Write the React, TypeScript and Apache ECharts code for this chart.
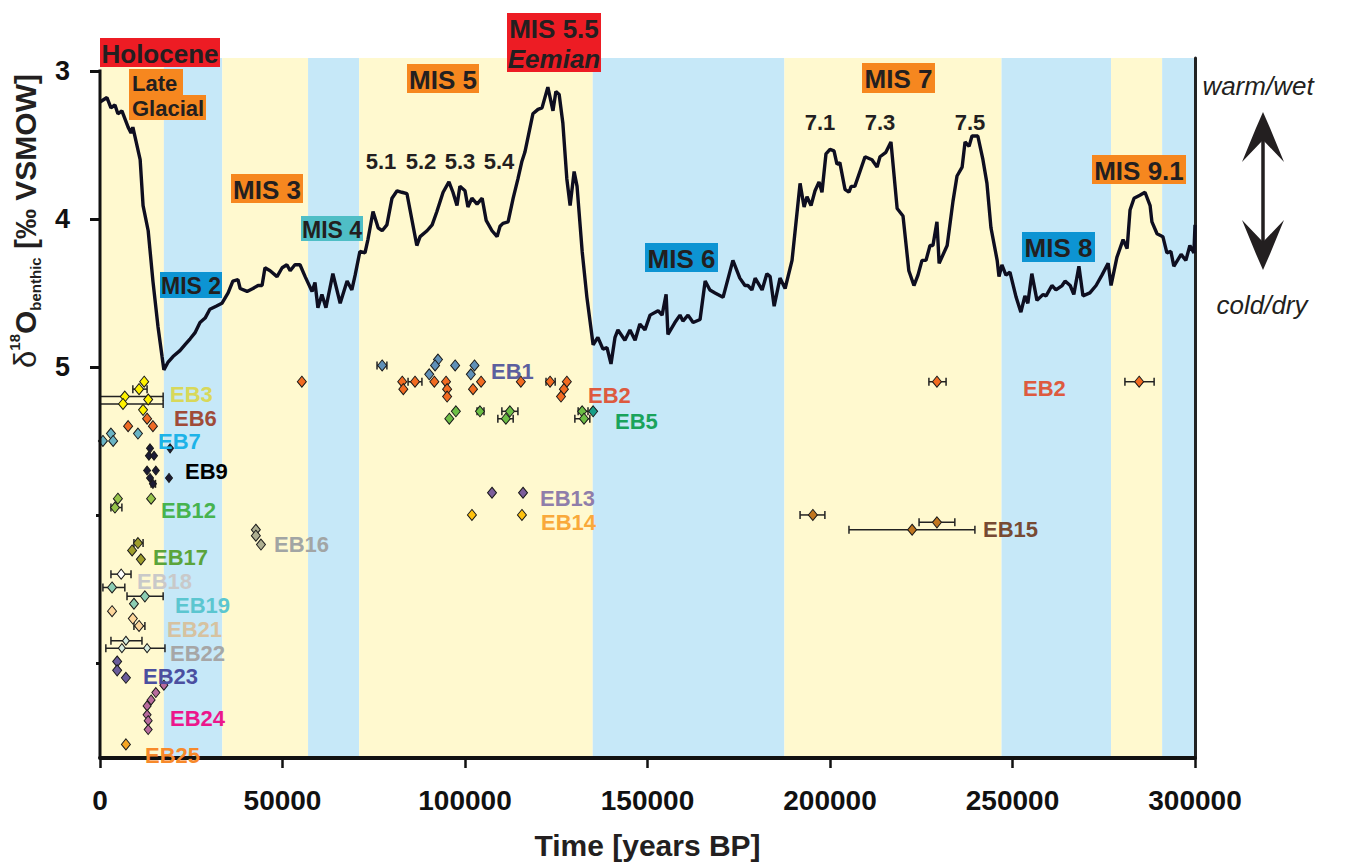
import React, { useEffect, useRef } from "react";
import * as echarts from "echarts";

const FONT = "'Liberation Sans', Arial, Helvetica, sans-serif";
const INK = "#231F20";

// ---------- axes ----------
const ageTicks = [0, 50000, 100000, 150000, 200000, 250000, 300000];
const labelledIsotopeTicks = [3, 4, 5];
const minorIsotopeTicks = [6, 7];
const AGE_MIN = 0;
const AGE_MAX = 300000;
const Y_MIN = 2.913;
const Y_MAX = 7.642;

// ---------- climate bands (years BP) ----------
const bandStart = [0, 17500, 33500, 57000, 71000, 135000, 187500, 247000, 277000, 291000];
const bandEnd = [17500, 33500, 57000, 71000, 135000, 187500, 247000, 277000, 291000, 300000];
const bandWarm = [1, 0, 1, 0, 1, 0, 1, 0, 1, 0];

// ---------- benthic d18O record [age, permil] ----------
const benthicRecord = [
  [0, 3.21], [1900, 3.18], [3000, 3.25], [4100, 3.23], [4900, 3.29], [6000, 3.27], [7700, 3.38], [8500, 3.42],
  [9000, 3.38], [11000, 3.6], [11800, 3.91], [13200, 4.08], [14500, 4.42], [15900, 4.73], [17000, 4.93], [17500, 5.02],
  [18600, 4.97], [20000, 4.93], [21900, 4.89], [23300, 4.85], [24700, 4.81], [26000, 4.77], [27400, 4.7], [28800, 4.67],
  [30100, 4.61], [31800, 4.59], [33400, 4.57], [35100, 4.5], [36400, 4.42], [37800, 4.41], [38400, 4.47], [40300, 4.49],
  [41900, 4.47], [43300, 4.45], [44400, 4.45], [45200, 4.33], [46600, 4.35], [48500, 4.39], [49900, 4.33], [51200, 4.31],
  [52100, 4.35], [53400, 4.31], [54800, 4.31], [56200, 4.39], [58100, 4.49], [58900, 4.43], [59700, 4.6], [60800, 4.51],
  [61900, 4.6], [63800, 4.37], [65800, 4.57], [67700, 4.42], [69000, 4.48], [69900, 4.38], [71200, 4.22], [72600, 4.23],
  [73400, 4.14], [74800, 3.95], [76200, 4.06], [77300, 4.08], [78600, 4.04], [80000, 3.86], [81400, 3.81], [82700, 3.82],
  [84100, 3.83], [86800, 4.18], [87700, 4.12], [89600, 4.08], [91000, 4.04], [92300, 3.95], [94000, 3.82], [95600, 3.75],
  [96700, 3.82], [97800, 3.91], [98600, 3.78], [100000, 3.81], [100800, 3.92], [101900, 3.86], [103300, 3.9], [104700, 3.86],
  [105800, 4.01], [107400, 4.08], [108800, 4.12], [109600, 4.05], [110400, 4.03], [111800, 4.02], [113200, 3.86], [114500, 3.73],
  [115600, 3.61], [116400, 3.55], [118600, 3.29], [120000, 3.26], [121100, 3.25], [122700, 3.11], [124100, 3.27], [124900, 3.14],
  [125800, 3.16], [126800, 3.35], [127900, 3.73], [128800, 3.91], [129900, 3.68], [130700, 3.78], [132100, 4.22], [133400, 4.53],
  [135100, 4.85], [136400, 4.8], [137800, 4.88], [138900, 4.87], [140000, 4.98], [141100, 4.8], [141900, 4.75], [143800, 4.82],
  [145200, 4.75], [146600, 4.82], [147900, 4.71], [149300, 4.75], [150700, 4.65], [152900, 4.62], [154000, 4.65], [155100, 4.51],
  [155600, 4.78], [157500, 4.7], [158900, 4.65], [159700, 4.69], [161100, 4.65], [162500, 4.7], [164400, 4.68], [165800, 4.42],
  [167100, 4.48], [168500, 4.5], [170700, 4.53], [173400, 4.28], [175300, 4.4], [176700, 4.45], [177500, 4.45], [178600, 4.48],
  [179500, 4.4], [181400, 4.48], [182700, 4.37], [183600, 4.39], [184700, 4.59], [186300, 4.4], [187700, 4.47], [189600, 4.28],
  [191000, 3.95], [191800, 3.76], [192900, 3.92], [193700, 3.85], [194800, 3.91], [195900, 3.81], [197000, 3.75], [197800, 3.82],
  [198900, 3.56], [200000, 3.53], [201100, 3.54], [201900, 3.63], [202700, 3.62], [204100, 3.8], [205200, 3.82], [205800, 3.78],
  [206800, 3.78], [209600, 3.58], [211500, 3.6], [212900, 3.65], [213700, 3.58], [215300, 3.55], [216700, 3.48], [218400, 3.93],
  [220000, 3.98], [221600, 4.35], [223000, 4.45], [224100, 4.38], [225200, 4.28], [226300, 4.28], [227400, 4.18], [228200, 4.18],
  [229300, 4.02], [229900, 4.3], [232100, 4.18], [233700, 3.88], [234800, 3.71], [236200, 3.65], [237000, 3.48], [238100, 3.51],
  [238900, 3.44], [240500, 3.44], [241900, 3.6], [243000, 3.76], [244100, 4.06], [245800, 4.28], [246300, 4.39], [247100, 4.31],
  [248200, 4.38], [249300, 4.36], [251000, 4.53], [252300, 4.63], [253400, 4.52], [254200, 4.57], [255300, 4.37], [256700, 4.55],
  [258400, 4.51], [259200, 4.52], [260800, 4.45], [261900, 4.48], [263600, 4.45], [264400, 4.42], [265800, 4.45], [266800, 4.51],
  [268200, 4.32], [269300, 4.52], [271200, 4.5], [272900, 4.45], [274500, 4.38], [276200, 4.3], [277000, 4.45], [278600, 4.26],
  [280300, 4.14], [281400, 4.2], [282200, 3.94], [283300, 3.86], [284900, 3.84], [286300, 3.82], [287700, 3.91], [288200, 4.02],
  [289600, 4.1], [291200, 4.12], [292300, 4.23], [293400, 4.22], [294200, 4.32], [296200, 4.24], [297500, 4.28], [298600, 4.18],
  [299700, 4.23], [300000, 4.04],
];

// ---------- dated sites: [age, row, ageMin, ageMax] ----------
const EB1 = [[77300, 4.99, 75900, 78600], [92600, 4.95], [91800, 4.99], [90200, 5.05], [97300, 4.99], [102600, 4.99], [101600, 5.05]];
const EB2 = [[55300, 5.1], [82800, 5.1], [83100, 5.15], [86300, 5.1, 84400, 88200], [91600, 5.1], [94800, 5.1], [95100, 5.15],
  [95100, 5.2], [104400, 5.1], [102200, 5.15], [115300, 5.1], [123300, 5.1, 122200, 124700], [127900, 5.1], [127100, 5.15],
  [126300, 5.2], [229300, 5.1, 227100, 231800], [284700, 5.1, 280800, 288800]];
const EB5 = [[97500, 5.3], [95700, 5.35], [104100, 5.3, 103300, 105200], [112300, 5.3, 110100, 114500], [111200, 5.35, 109000, 113200],
  [132100, 5.3, 131000, 133700], [132600, 5.35, 130100, 134200]];
const EB5b = [[135100, 5.3]];
const EB3 = [[12100, 5.1], [10700, 5.15, 9000, 12900], [6800, 5.2, 0, 17300], [6300, 5.25, 0, 17300], [13200, 5.22], [11800, 5.29]];
const EB6 = [[12900, 5.35], [14500, 5.4], [7700, 5.4]];
const EB7 = [[3000, 5.45], [800, 5.5], [3600, 5.5], [10400, 5.45]];
const EB9 = [[13700, 5.55], [19200, 5.55], [13400, 5.6], [14800, 5.6], [12900, 5.7], [15300, 5.7], [13700, 5.75], [14500, 5.79, 14000, 15200], [18900, 5.75]];
const EB12 = [[4900, 5.89], [4100, 5.95, 3000, 6000], [14000, 5.89]];
const EB13 = [[107400, 5.85], [115900, 5.85]];
const EB14 = [[101900, 6.0], [115600, 6.0]];
const EB15 = [[195300, 6.0, 191800, 198600], [229300, 6.05, 224400, 234200], [222500, 6.1, 205200, 239700]];
const EB16 = [[42700, 6.1], [42700, 6.14], [44100, 6.2]];
const EB17 = [[10400, 6.19, 9300, 11800], [8800, 6.24], [11200, 6.3]];
const EB18 = [[5800, 6.4, 3000, 8500]];
const EB19 = [[3300, 6.49, 800, 6800], [12300, 6.55, 7400, 17300], [9300, 6.6]];
const EB21 = [[3300, 6.65], [9000, 6.7], [10700, 6.75, 9300, 12300]];
const EB22 = [[7100, 6.85, 3000, 11500], [6000, 6.9, 1600, 17800], [12900, 6.9]];
const EB23 = [[4700, 6.99], [4700, 7.05], [7100, 7.1]];
const EB24 = [[17500, 7.15], [15300, 7.2], [14000, 7.25], [12900, 7.29], [12900, 7.35], [13200, 7.39], [13200, 7.45]];
const EB25 = [[7100, 7.55]];

const siteGroups = [
  { name: "EB1", data: EB1, fill: "#5F90B8" },
  { name: "EB2", data: EB2, fill: "#F26B21" },
  { name: "EB5", data: EB5, fill: "#6CBE45" },
  { name: "EB5b", data: EB5b, fill: "#169E88" },
  { name: "EB3", data: EB3, fill: "#FFF200" },
  { name: "EB6", data: EB6, fill: "#EF6B24" },
  { name: "EB7", data: EB7, fill: "#6AB4C4" },
  { name: "EB9", data: EB9, fill: "#1B1B35", size: [7, 9] },
  { name: "EB12", data: EB12, fill: "#96C34A" },
  { name: "EB13", data: EB13, fill: "#7C5E9B" },
  { name: "EB14", data: EB14, fill: "#FFC20E" },
  { name: "EB15", data: EB15, fill: "#C1761F" },
  { name: "EB16", data: EB16, fill: "#AEAF91" },
  { name: "EB17", data: EB17, fill: "#9E9D2B" },
  { name: "EB18", data: EB18, fill: "#FFFFFF", size: [8, 10] },
  { name: "EB19", data: EB19, fill: "#8CCDB3" },
  { name: "EB21", data: EB21, fill: "#FDD69B" },
  { name: "EB22", data: EB22, fill: "#D4ECDF", size: [7, 9] },
  { name: "EB23", data: EB23, fill: "#6A5C9B" },
  { name: "EB24", data: EB24, fill: "#B86B9D", size: [8, 10] },
  { name: "EB25", data: EB25, fill: "#F6A623" },
];

// site label texts / colours / positions (px)
const siteLabels = [
  ["EB1", 491, 371, "#5C5F9E"], ["EB2", 588, 395, "#DD5A3F"], ["EB5", 615, 421, "#1AA35C"], ["EB2", 1023, 388, "#DD5A3F"],
  ["EB15", 983, 529, "#774A33"], ["EB3", 170, 394, "#D8D85A"], ["EB6", 174, 418, "#A04B38"], ["EB7", 158, 441, "#1DB3E8"],
  ["EB9", 185, 471, "#000000"], ["EB12", 161, 510, "#47B34F"], ["EB13", 540, 498, "#8F7EAA"], ["EB14", 541, 522, "#F9A93B"],
  ["EB16", 274, 544, "#A2A5A4"], ["EB17", 153, 557, "#5BA43B"], ["EB18", 137, 581, "#C9C9C9"], ["EB19", 175, 605, "#5BC6D0"],
  ["EB21", 167, 629, "#D6C2A0"], ["EB22", 170, 653, "#A6A6A6"], ["EB23", 143, 676, "#4B4FA0"], ["EB24", 170, 718, "#EC168C"],
  ["EB25", 145, 755, "#F7892B"],
];

const RED = "#ED1C24";
const ORANGE = "#F6871F";
const TEAL = "#4FBEC6";
const BLUE = "#0D94D3";
// [text, x0, y0, x1, y1, colour, fontSize, italic, align]
const stageBoxes = [
  ["Holocene", 100, 38, 220, 67, RED, 26, false, "center"],
  ["Late", 129, 69, 183, 95, ORANGE, 22, false, "left"],
  ["Glacial", 129, 95, 206, 120, ORANGE, 22, false, "left"],
  ["MIS 5.5", 507, 13, 601, 43, RED, 26, false, "center"],
  ["Eemian", 507, 43, 601, 72, RED, 26, true, "center"],
  ["MIS 5", 407, 64, 479, 93, ORANGE, 26, false, "center"],
  ["MIS 3", 231, 174, 303, 203, ORANGE, 26, false, "center"],
  ["MIS 4", 301, 216, 363, 241, TEAL, 23, false, "center"],
  ["MIS 2", 160, 272, 222, 298, BLUE, 23, false, "center"],
  ["MIS 6", 645, 243, 718, 272, BLUE, 26, false, "center"],
  ["MIS 7", 862, 63, 935, 93, ORANGE, 26, false, "center"],
  ["MIS 8", 1022, 232, 1095, 262, BLUE, 26, false, "center"],
  ["MIS 9.1", 1092, 155, 1186, 184, ORANGE, 26, false, "center"],
];
const substageLabels = [
  ["5.1", 381, 161], ["5.2", 421, 161], ["5.3", 460, 161], ["5.4", 499, 161],
  ["7.1", 820, 122], ["7.3", 880, 122], ["7.5", 970, 122],
];

export default function App() {
  const ref = useRef<HTMLDivElement>(null);
  useEffect(() => {
    if (!ref.current) return;
    const chart = echarts.init(ref.current, undefined, { renderer: "svg" });

    const errorData: number[][] = [];
    siteGroups.forEach((g) => g.data.forEach((d) => { if (d.length === 4) errorData.push(d); }));

    const series: any[] = [
      {
        type: "custom", z: 0, silent: true,
        renderItem: (_p: any, api: any) => {
          const a = api.coord([api.value(0), Y_MIN]);
          const b = api.coord([api.value(1), Y_MAX]);
          return {
            type: "rect",
            shape: { x: a[0], y: a[1], width: b[0] - a[0], height: b[1] - a[1] },
            style: { fill: api.value(2) ? "#FFF9CF" : "#C6E8F8" },
          };
        },
        encode: { x: [0, 1] },
        data: bandStart.map((s, i) => [s, bandEnd[i], bandWarm[i]]),
      },
      {
        type: "line", z: 3, data: benthicRecord, symbol: "none", silent: true,
        lineStyle: { color: "#0E0E20", width: 3.4 },
      },
      {
        type: "custom", z: 4, silent: true,
        renderItem: (_p: any, api: any) => {
          const y = api.value(1);
          const a = api.coord([api.value(2), y]);
          const b = api.coord([api.value(3), y]);
          const h = 4;
          const st = { stroke: "#222", lineWidth: 1.5 };
          return {
            type: "group",
            children: [
              { type: "line", shape: { x1: a[0], y1: a[1], x2: b[0], y2: b[1] }, style: st },
              { type: "line", shape: { x1: a[0], y1: a[1] - h, x2: a[0], y2: a[1] + h }, style: st },
              { type: "line", shape: { x1: b[0], y1: b[1] - h, x2: b[0], y2: b[1] + h }, style: st },
            ],
          };
        },
        encode: { x: [0, 2, 3], y: 1 },
        data: errorData,
      },
      ...siteGroups.map((g) => ({
        type: "scatter", name: g.name, z: 5, silent: true,
        data: g.data.map((d) => [d[0], d[1]]),
        symbol: "diamond",
        symbolSize: g.size || [9, 11],
        itemStyle: { color: g.fill, borderColor: "#1A1A1A", borderWidth: 1, opacity: 1 },
      })),
    ];

    const yBase = { type: "value", min: Y_MIN, max: Y_MAX, inverse: true, splitLine: { show: false } };

    chart.setOption({
      animation: false,
      backgroundColor: "#ffffff",
      grid: { left: 100, right: 152, top: 58, bottom: 100, containLabel: false },
      xAxis: {
        type: "value", min: AGE_MIN, max: AGE_MAX, interval: 50000,
        axisLine: { show: true, onZero: false, lineStyle: { color: "#111", width: 4 } },
        axisTick: { show: true, length: 10, lineStyle: { color: "#111", width: 2.5 } },
        axisLabel: {
          fontSize: 28, fontWeight: "bold", color: "#111", fontFamily: FONT, margin: 28,
          formatter: (v: number) => (ageTicks.includes(v) ? String(v) : ""),
        },
        splitLine: { show: false },
        name: "Time [years BP]", nameLocation: "middle", nameGap: 72,
        nameTextStyle: { fontSize: 30, fontWeight: "bold", color: INK, fontFamily: FONT },
      },
      yAxis: [
        {
          ...yBase, position: "left",
          axisLine: { show: false },
          axisTick: { show: true, customValues: labelledIsotopeTicks, length: 10, lineStyle: { color: "#111", width: 3 } },
          axisLabel: { show: true, customValues: labelledIsotopeTicks, fontSize: 27, fontWeight: "bold", color: "#111", fontFamily: FONT, margin: 30 },
        },
        {
          ...yBase, position: "right",
          axisLine: { show: true, lineStyle: { color: "#222", width: 3 } },
          axisTick: { show: false }, axisLabel: { show: false },
        },
        {
          ...yBase, position: "left",
          axisLine: { show: false },
          axisTick: { show: true, customValues: minorIsotopeTicks, length: 4, lineStyle: { color: "#111", width: 3 } },
          axisLabel: { show: false },
        },
      ],
      series,
    });

    const yTop = chart.convertToPixel({ yAxisIndex: 0 }, 3) as number;
    const yBot = chart.convertToPixel({ yAxisIndex: 0 }, Y_MAX) as number;
    const xLeft = chart.convertToPixel({ xAxisIndex: 0 }, 0) as number;

    const g: any[] = [];
    g.push({
      type: "line", z: 50,
      shape: { x1: xLeft, y1: yTop - 1.5, x2: xLeft, y2: yBot },
      style: { stroke: "#111", lineWidth: 3 },
    });
    stageBoxes.forEach((b: any[]) => {
      const [text, x0, y0, x1, y1, col, fs, it, al] = b;
      g.push({ type: "rect", z: 60, shape: { x: x0, y: y0, width: x1 - x0, height: y1 - y0 }, style: { fill: col } });
      g.push({
        type: "text", z: 61,
        x: al === "left" ? x0 + 3 : (x0 + x1) / 2, y: (y0 + y1) / 2 + 1,
        style: {
          text, fill: INK, fontSize: fs, fontWeight: "bold", fontStyle: it ? "italic" : "normal", fontFamily: FONT,
          align: al, verticalAlign: "middle",
        },
      });
    });
    substageLabels.forEach(([text, x, y]: any[]) => {
      g.push({
        type: "text", z: 61, x, y,
        style: { text, fill: INK, fontSize: 22, fontWeight: "bold", fontFamily: FONT, align: "center", verticalAlign: "middle" },
      });
    });
    siteLabels.forEach(([text, x, y, col]: any[]) => {
      g.push({
        type: "text", z: 61, x, y,
        style: { text, fill: col, fontSize: 22, fontWeight: "bold", fontFamily: FONT, align: "left", verticalAlign: "middle" },
      });
    });
    // y-axis title
    g.push({
      type: "text", z: 61, x: 25, y: 221, rotation: Math.PI / 2,
      style: {
        text: "{d|δ}{s|18}{o|O}{b|benthic}{o| [‰ VSMOW]}",
        align: "center", verticalAlign: "middle", fill: INK, fontFamily: FONT,
        rich: {
          d: { fontSize: 31, fontWeight: "normal", fill: INK, fontFamily: FONT, lineHeight: 36 },
          s: { fontSize: 15, fontWeight: "bold", fill: INK, fontFamily: FONT, verticalAlign: "top", lineHeight: 26 },
          o: { fontSize: 30, fontWeight: "bold", fill: INK, fontFamily: FONT, lineHeight: 36 },
          b: { fontSize: 15, fontWeight: "bold", fill: INK, fontFamily: FONT, verticalAlign: "bottom", lineHeight: 16 },
        },
      },
    });
    // warm / cold annotation
    g.push({
      type: "text", z: 61, x: 1258, y: 86,
      style: { text: "warm/wet", fill: INK, fontSize: 26, fontStyle: "italic", fontFamily: FONT, align: "center", verticalAlign: "middle" },
    });
    g.push({
      type: "text", z: 61, x: 1262, y: 305,
      style: { text: "cold/dry", fill: INK, fontSize: 26, fontStyle: "italic", fontFamily: FONT, align: "center", verticalAlign: "middle" },
    });
    g.push({ type: "line", z: 61, shape: { x1: 1263, y1: 125, x2: 1263, y2: 258 }, style: { stroke: INK, lineWidth: 3.5 } });
    g.push({ type: "polygon", z: 61, shape: { points: [[1263, 112], [1270, 128], [1284, 162], [1263, 140], [1242, 162], [1256, 128]] }, style: { fill: INK } });
    g.push({ type: "polygon", z: 61, shape: { points: [[1263, 270], [1270, 254], [1284, 220], [1263, 242], [1242, 220], [1256, 254]] }, style: { fill: INK } });

    chart.setOption({ graphic: g });

    return () => chart.dispose();
  }, []);

  return <div ref={ref} style={{ position: "absolute", left: 0, top: 0, width: 1347, height: 865 }} />;
}
